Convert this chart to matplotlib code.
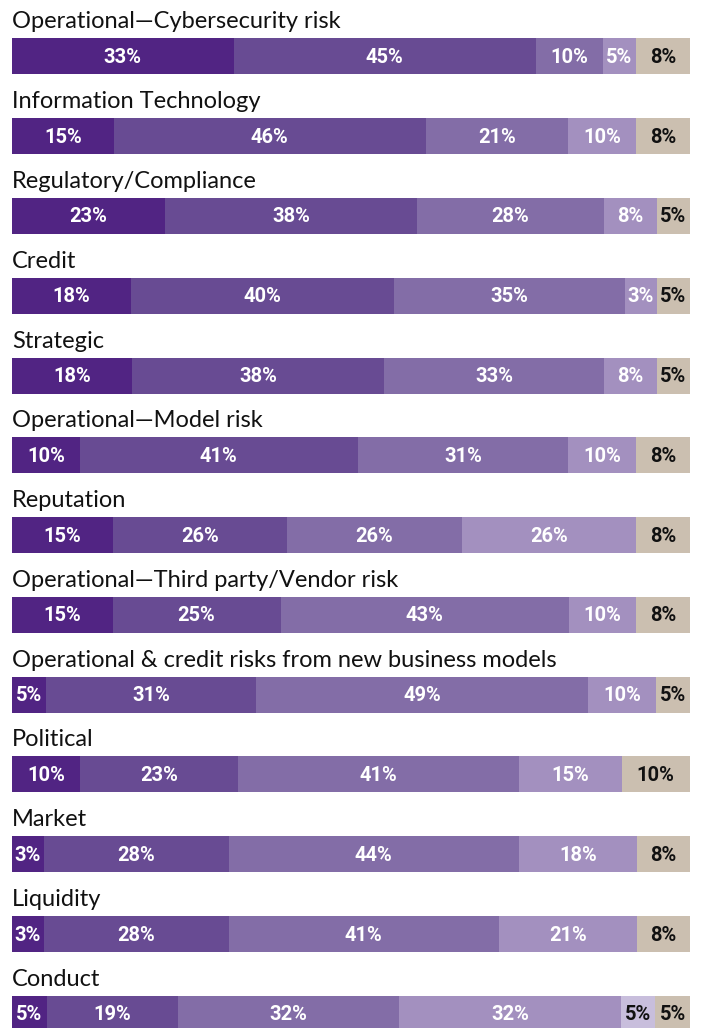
import matplotlib
matplotlib.use("Agg")
import matplotlib.pyplot as plt
import numpy as np

categories = [
    "Operational\u2014Cybersecurity risk",
    "Information Technology",
    "Regulatory/Compliance",
    "Credit",
    "Strategic",
    "Operational\u2014Model risk",
    "Reputation",
    "Operational\u2014Third party/Vendor risk",
    "Operational & credit risks from new business models",
    "Political",
    "Market",
    "Liquidity",
    "Conduct",
]

# six response levels, darkest to beige
s1 = [33, 15, 23, 18, 18, 10, 15, 15, 5, 10, 3, 3, 5]
s2 = [45, 46, 38, 40, 38, 41, 26, 25, 31, 23, 28, 28, 19]
s3 = [10, 21, 28, 35, 33, 31, 26, 43, 49, 41, 44, 41, 32]
s4 = [5, 10, 8, 3, 8, 10, 26, 10, 10, 15, 18, 21, 32]
s5 = [0, 0, 0, 0, 0, 0, 0, 0, 0, 0, 0, 0, 5]
s6 = [8, 8, 5, 5, 5, 8, 8, 8, 5, 10, 8, 8, 5]

series = [s1, s2, s3, s4, s5, s6]
colors = ["#512483", "#684b93", "#836da7", "#a390bf", "#c8bedc", "#cbbfb0"]
text_colors = ["white", "white", "white", "white", "#111111", "#111111"]

W, H = 702, 1028
fig = plt.figure(figsize=(W / 100, H / 100), dpi=100)
ax = fig.add_axes([12 / W, 0, (690 - 12) / W, 1])
ax.set_xlim(0, 1)
ax.set_ylim(H, 0)
ax.axis("off")

data = np.array(series, dtype=float)  # shape (6, 13)
frac = data / data.sum(axis=0)
# small segments get a minimum display width so their labels fit
min_w = 0.048
frac = np.where((frac > 0) & (frac < min_w), min_w, frac)
frac = frac / frac.sum(axis=0)
lefts = np.vstack([np.zeros(frac.shape[1]), np.cumsum(frac, axis=0)[:-1]])

first_center = 56.3
spacing = 79.8
bar_h = 36
centers = first_center + spacing * np.arange(len(categories))

for k in range(len(series)):
    ax.barh(centers, frac[k], left=lefts[k], height=bar_h, color=colors[k],
            edgecolor="none", linewidth=0)
    for i in range(len(categories)):
        v = data[k, i]
        if v <= 0:
            continue
        ax.text(lefts[k, i] + frac[k, i] / 2, centers[i] + 1, f"{int(v)}%",
                ha="center", va="center", color=text_colors[k],
                fontsize=14.5, fontweight="bold", family="Roboto")

for i, name in enumerate(categories):
    ax.text(0, centers[i] - bar_h / 2 - 10, name, ha="left", va="baseline",
            fontsize=17, color="#111111", family="Lato")

fig.savefig("out.png", dpi=100)
